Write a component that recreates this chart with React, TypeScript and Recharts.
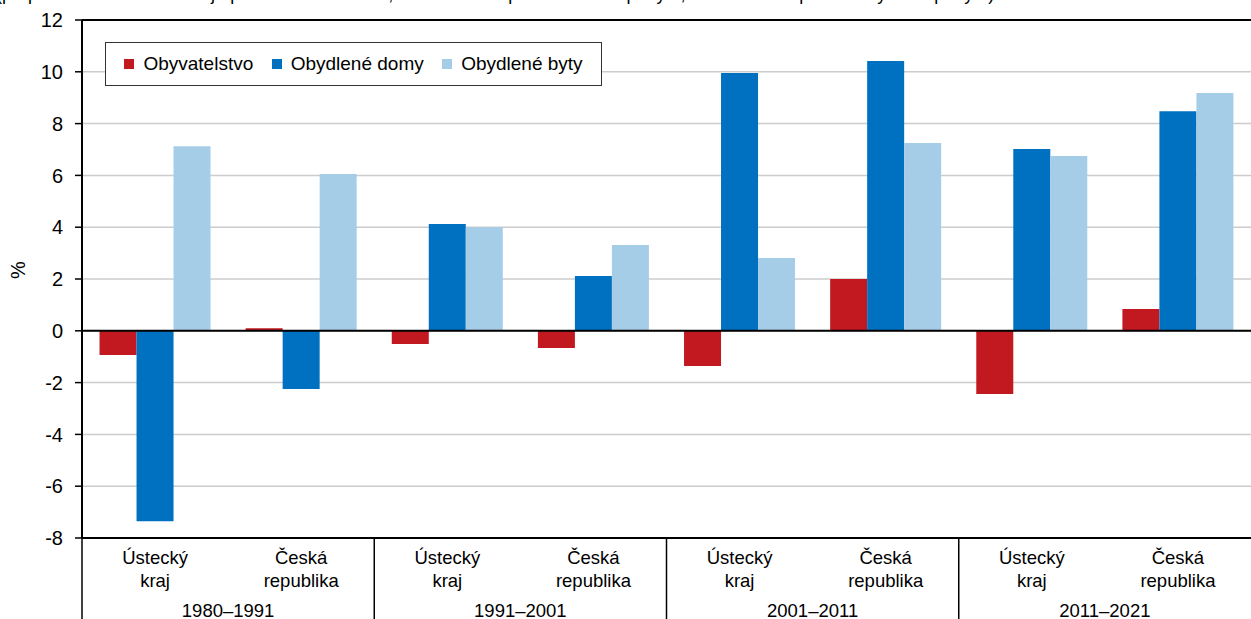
import { BarChart, Bar, XAxis, YAxis, CartesianGrid, ReferenceLine } from 'recharts'

const periods = ['1980–1991', '1991–2001', '2001–2011', '2011–2021']
const regions = [['Ústecký', 'kraj'], ['Česká', 'republika']]
const obyvatelstvo = [-0.93, 0.1, -0.51, -0.66, -1.36, 2.0, -2.44, 0.84]
const obydleneDomy = [-7.35, -2.25, 4.12, 2.12, 9.95, 10.42, 7.02, 8.48]
const obydleneByty = [7.13, 6.05, 4.0, 3.31, 2.81, 7.25, 6.75, 9.18]
const yTicks = [-8, -6, -4, -2, 0, 2, 4, 6, 8, 10, 12]

const series = [
  { key: 'obyvatelstvo', name: 'Obyvatelstvo', color: '#C1191F' },
  { key: 'domy', name: 'Obydlené domy', color: '#0070C0' },
  { key: 'byty', name: 'Obydlené byty', color: '#A6CDE8' },
]

const data = obyvatelstvo.map((v, i) => ({
  id: i,
  obyvatelstvo: v,
  domy: obydleneDomy[i],
  byty: obydleneByty[i],
}))

const W = 1251
const H = 619
const LEFT = 82
const TOP = 20
const BOTTOM_H = 81
const PLOT_BOTTOM = H - BOTTOM_H
const CAT_W = (W - LEFT) / data.length
const FONT = 'Arial, "Liberation Sans", sans-serif'

const CategoryTick = ({ x, payload }: any) => {
  const i = payload.index ?? payload.value
  const [l1, l2] = regions[i % 2]
  return (
    <g>
      <text x={x} y={564} textAnchor="middle" fontSize={18.5} fill="#000" fontFamily={FONT}>{l1}</text>
      <text x={x} y={587} textAnchor="middle" fontSize={18.5} fill="#000" fontFamily={FONT}>{l2}</text>
      {i % 2 === 0 && (
        <>
          <line x1={x - CAT_W / 2} x2={x - CAT_W / 2} y1={PLOT_BOTTOM} y2={H} stroke="#000" strokeWidth={1.5} />
          <text x={x + CAT_W / 2} y={617} textAnchor="middle" fontSize={18.5} fill="#000" fontFamily={FONT}>
            {periods[i / 2]}
          </text>
        </>
      )}
    </g>
  )
}

const LegendBox = () => (
  <div
    style={{
      position: 'absolute',
      left: 105,
      top: 42,
      border: '1px solid #333',
      height: 42,
      width: 495,
      display: 'flex',
      alignItems: 'center',
      justifyContent: 'space-evenly',
      fontFamily: FONT,
      fontSize: 19,
      background: '#fff',
    }}
  >
    {series.map((s) => (
      <span key={s.key} style={{ display: 'flex', alignItems: 'center' }}>
        <span style={{ width: 10, height: 10, background: s.color, marginRight: 9, display: 'inline-block' }} />
        {s.name}
      </span>
    ))}
  </div>
)

export default function App() {
  return (
    <div style={{ position: 'absolute', left: 0, top: 0, width: W, height: H, overflow: 'hidden', background: '#fff' }}>
      <div
        style={{
          position: 'absolute',
          left: -4,
          top: -16,
          fontFamily: FONT,
          fontSize: 18,
          whiteSpace: 'nowrap',
          color: '#000',
        }}
      >
        (přepočteno na územní kraje platné k 26. 3. 2021; do roku 2001 podle trvalého pobytu, od roku 2011 podle obvyklého pobytu)
      </div>
      <BarChart
        width={W}
        height={H}
        data={data}
        margin={{ top: TOP, right: 0, bottom: 0, left: 0 }}
        barCategoryGap="12%"
        barGap={0}
        style={{ fontFamily: FONT }}
      >
        <CartesianGrid vertical={false} stroke="#cccccc" strokeWidth={1.5} />
        <XAxis
          dataKey="id"
          height={BOTTOM_H}
          axisLine={{ stroke: '#000', strokeWidth: 2 }}
          tickLine={false}
          interval={0}
          tick={<CategoryTick />}
        />
        <YAxis
          width={LEFT}
          domain={[-8, 12]}
          ticks={yTicks}
          interval={0}
          axisLine={{ stroke: '#000', strokeWidth: 2 }}
          tickLine={{ stroke: '#000', strokeWidth: 1.5 }}
          tickSize={7}
          tickMargin={12}
          tick={{ fill: '#000', fontSize: 20, fontFamily: FONT }}
          label={{ value: '%', angle: -90, position: 'insideLeft', offset: 18, fill: '#000', fontSize: 20, fontFamily: FONT }}
        />
        <ReferenceLine y={12} stroke="#000" strokeWidth={2} />
        {series.map((s) => (
          <Bar key={s.key} dataKey={s.key} name={s.name} fill={s.color} isAnimationActive={false} />
        ))}
        <ReferenceLine y={0} stroke="#000" strokeWidth={2} />
      </BarChart>
      <LegendBox />
    </div>
  )
}
